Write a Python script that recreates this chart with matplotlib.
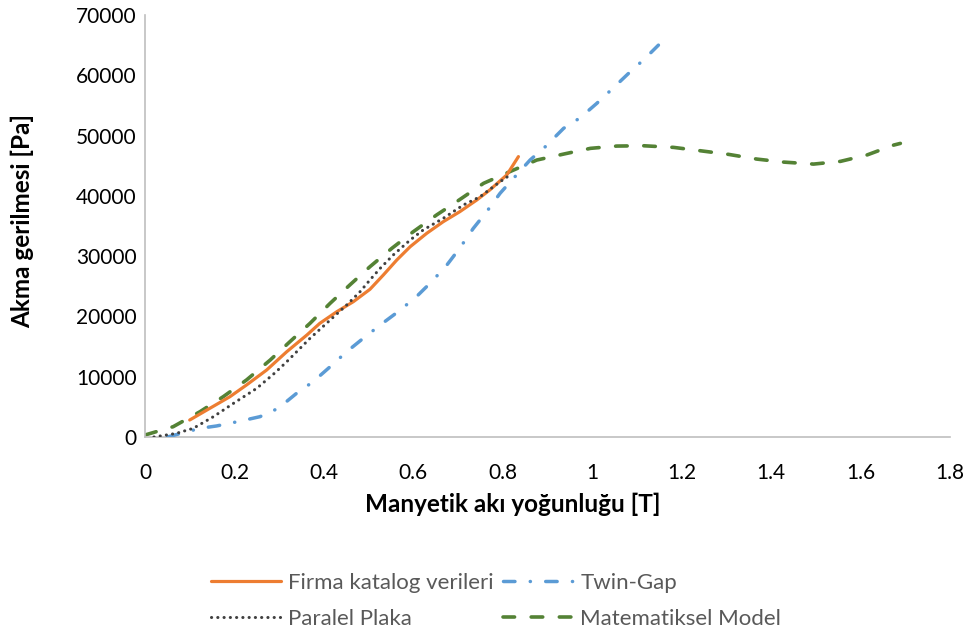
import matplotlib
matplotlib.use("Agg")
import matplotlib.pyplot as plt

plt.rcParams['font.family'] = ['Lato', 'DejaVu Sans']

# Firma katalog verileri
firma_x = [0.100, 0.145, 0.190, 0.227, 0.272, 0.317, 0.362, 0.391, 0.429, 0.466, 0.503,
           0.533, 0.563, 0.593, 0.630, 0.667, 0.704, 0.742, 0.771, 0.809, 0.835]
firma_y = [2820, 4760, 6690, 8630, 11110, 14150, 16920, 18860, 20790, 22450, 24500,
           26880, 29360, 31570, 33790, 35720, 37380, 39320, 40980, 43470, 46510]

# Twin-Gap
twin_x = [0.050, 0.086, 0.123, 0.160, 0.212, 0.257, 0.298, 0.339, 0.376, 0.414, 0.451,
          0.488, 0.526, 0.566, 0.607, 0.641, 0.675, 0.704, 0.734, 0.764, 0.794, 0.824,
          0.861, 0.895, 0.936, 0.973, 1.010, 1.045, 1.081, 1.118, 1.148]
twin_y = [0, 710, 1440, 1830, 2620, 3370, 4760, 7250, 9180, 11660, 14150,
          16370, 18580, 20790, 23280, 25770, 28530, 31350, 34600, 37380, 40430, 42910,
          45940, 48150, 51200, 52950, 55330, 57760, 60300, 62790, 65000]

# Paralel Plaka
paralel_x = [0.020, 0.070, 0.108, 0.153, 0.198, 0.250, 0.291, 0.317, 0.343, 0.369, 0.410,
             0.451, 0.481, 0.503, 0.526, 0.555, 0.593, 0.622, 0.667, 0.712, 0.749,
             0.794, 0.815]
paralel_y = [0, 600, 1440, 3370, 5590, 8080, 10670, 12490, 14430, 16370, 19130,
             21900, 24110, 26050, 27990, 30190, 32680, 34340, 36280, 38490, 39850,
             42340, 43400]

# Matematiksel Model
model_x = [0.000, 0.063, 0.123, 0.175, 0.227, 0.280, 0.324, 0.369, 0.414, 0.458, 0.503,
           0.552, 0.600, 0.652, 0.697, 0.757, 0.824, 0.876, 0.936, 0.996, 1.055, 1.115,
           1.182, 1.242, 1.305, 1.368, 1.428, 1.495, 1.555, 1.614, 1.674, 1.689]
model_y = [330, 1710, 4200, 6690, 9460, 12770, 15810, 18860, 22180, 25220, 28250,
           31300, 34060, 36830, 39040, 42080, 44280, 45940, 46930, 47880, 48260, 48310,
           48040, 47480, 46880, 46100, 45600, 45270, 45720, 46770, 48420, 48700]

x_ticks = [0, 0.2, 0.4, 0.6, 0.8, 1, 1.2, 1.4, 1.6, 1.8]
x_tick_labels = ["0", "0.2", "0.4", "0.6", "0.8", "1", "1.2", "1.4", "1.6", "1.8"]
y_ticks = [0, 10000, 20000, 30000, 40000, 50000, 60000, 70000]

c_orange = '#ED7D31'
c_blue = '#5B9BD5'
c_gray = '#404040'
c_green = '#548235'

fig = plt.figure(figsize=(9.70, 6.42), dpi=100)
ax = fig.add_axes([145/970, 1-437/642, 805/970, 422/642])

l_firma, = ax.plot(firma_x, firma_y, color=c_orange, lw=2.3, solid_capstyle='round',
                   solid_joinstyle='round', zorder=4)
l_twin, = ax.plot(twin_x, twin_y, color=c_blue, lw=2.5, dash_capstyle='round',
                  linestyle=(0, (3.3, 4.4, 0.05, 4.4)), zorder=3)
l_par, = ax.plot(paralel_x, paralel_y, color=c_gray, lw=2.2, dash_capstyle='round',
                 linestyle=(0, (0.05, 2.0)), zorder=5)
l_mod, = ax.plot(model_x, model_y, color=c_green, lw=2.6, dash_capstyle='round',
                 linestyle=(0, (3.2, 4.6)), zorder=2)

ax.set_xlim(0, 1.8)
ax.set_ylim(0, 70000)
ax.set_xticks(x_ticks)
ax.set_xticklabels(x_tick_labels)
ax.set_yticks(y_ticks)
ax.tick_params(axis='both', length=0, labelsize=15, colors='#000000')
ax.tick_params(axis='y', pad=6)
ax.tick_params(axis='x', pad=19)
for s in ['top', 'right']:
    ax.spines[s].set_visible(False)
for s in ['left', 'bottom']:
    ax.spines[s].set_color('#BFBFBF')
    ax.spines[s].set_linewidth(1.2)

fig.text(513/970, 1-512/642, "Manyetik akı yoğunluğu [T]", ha='center', va='baseline',
         fontsize=17.5, fontweight='bold')
fig.text(22/970, 1-221/642, "Akma gerilmesi [Pa]", ha='center', va='center',
         rotation=90, fontsize=17.5, fontweight='bold')

leg = fig.legend([l_firma, l_par, l_twin, l_mod],
                 ["Firma katalog verileri", "Paralel Plaka", "Twin-Gap", "Matematiksel Model"],
                 ncol=2, loc='center', bbox_to_anchor=(496/970, 1-601/642),
                 frameon=False, fontsize=16, handlelength=3.15, handletextpad=0.32,
                 columnspacing=0.45, labelspacing=0.7, borderaxespad=0, borderpad=0)
for t in leg.get_texts():
    t.set_color('#595959')

fig.savefig("out.png", dpi=100)
